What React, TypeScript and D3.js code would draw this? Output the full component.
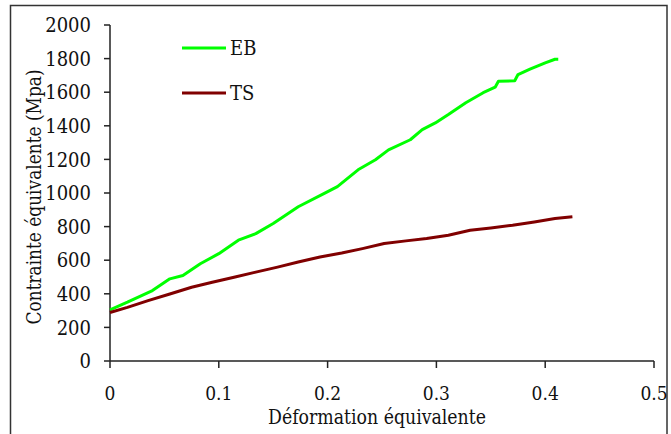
import React from "react";
import * as d3 from "d3";

const ebStrain = [0, 0.016, 0.039, 0.055, 0.067, 0.083, 0.1, 0.118, 0.134, 0.15, 0.173, 0.197, 0.209, 0.228, 0.244, 0.256, 0.276, 0.287, 0.299, 0.311, 0.327, 0.343, 0.354, 0.357, 0.372, 0.375, 0.386, 0.4, 0.409, 0.412];
const ebStress = [305, 350, 419, 489, 509, 579, 639, 719, 758, 818, 918, 998, 1038, 1138, 1198, 1257, 1317, 1377, 1417, 1467, 1537, 1597, 1630, 1665, 1668, 1705, 1737, 1775, 1796, 1796];

const tsStrain = [0, 0.016, 0.035, 0.055, 0.075, 0.094, 0.114, 0.134, 0.154, 0.173, 0.193, 0.213, 0.232, 0.252, 0.272, 0.291, 0.311, 0.331, 0.35, 0.37, 0.39, 0.409, 0.425];
const tsStress = [289, 319, 359, 399, 439, 469, 499, 529, 559, 589, 619, 643, 669, 699, 715, 729, 749, 778, 792, 808, 828, 848, 858];

const xTicks = [0, 0.1, 0.2, 0.3, 0.4, 0.5];
const yTicks = [0, 200, 400, 600, 800, 1000, 1200, 1400, 1600, 1800, 2000];

const seriesNames = ["EB", "TS"];
const seriesColors = ["#00ff00", "#800000"];

export default function App() {
  const W = 671, H = 434;
  const x = d3.scaleLinear().domain([0, 0.5]).range([110, 654]);
  const y = d3.scaleLinear().domain([0, 2000]).range([361, 25]);
  const line = d3.line<[number, number]>().x(d => x(d[0])).y(d => y(d[1])).curve(d3.curveLinear);
  const eb = ebStrain.map((s, i) => [s, ebStress[i]] as [number, number]);
  const ts = tsStrain.map((s, i) => [s, tsStress[i]] as [number, number]);
  const fontStyle = { fontFamily: "'DejaVu Serif Condensed', 'DejaVu Serif', serif" };
  const axisColor = "#222";
  return (
    <svg width={W} height={H} style={{ position: "absolute", left: 0, top: 0, ...fontStyle }}>
      <rect x={0} y={0} width={W} height={H} fill="#fff" />
      <rect x={10.5} y={5.5} width={656.5} height={440} fill="none" stroke="#333" strokeWidth={1.5} />
      <line x1={x(0)} x2={x(0)} y1={y(2000)} y2={y(0)} stroke={axisColor} strokeWidth={1.5} />
      <line x1={x(0)} x2={x(0.5)} y1={y(0)} y2={y(0)} stroke={axisColor} strokeWidth={1.5} />
      {yTicks.map(t => (
        <g key={"y" + t}>
          <line x1={x(0) - 6} x2={x(0)} y1={y(t)} y2={y(t)} stroke={axisColor} strokeWidth={1.5} />
          <text x={91} y={y(t)} dy="0.36em" textAnchor="end" fontSize={20} fill="#111" style={fontStyle}>{t}</text>
        </g>
      ))}
      {xTicks.map(t => (
        <g key={"x" + t}>
          <line x1={x(t)} x2={x(t)} y1={y(0)} y2={y(0) + 7} stroke={axisColor} strokeWidth={1.5} />
          <text x={x(t)} y={400} textAnchor="middle" fontSize={19} fill="#111" style={fontStyle}>{t}</text>
        </g>
      ))}
      <text x={377} y={424} textAnchor="middle" fontSize={20} fill="#111" textLength={218} lengthAdjust="spacingAndGlyphs" style={fontStyle}>Déformation équivalente</text>
      <text transform="translate(41,197) rotate(-90)" textAnchor="middle" fontSize={20} fill="#111" textLength={255} lengthAdjust="spacingAndGlyphs" style={fontStyle}>Contrainte équivalente (Mpa)</text>
      <path d={line(eb) || ""} fill="none" stroke={seriesColors[0]} strokeWidth={3} strokeLinejoin="round" />
      <path d={line(ts) || ""} fill="none" stroke={seriesColors[1]} strokeWidth={3} strokeLinejoin="round" />
      {seriesNames.map((n, i) => (
        <g key={n}>
          <line x1={182} x2={226} y1={48 + i * 45} y2={48 + i * 45} stroke={seriesColors[i]} strokeWidth={3} />
          <text x={230} y={48 + i * 45} dy="0.36em" fontSize={20} fill="#111" style={fontStyle}>{n}</text>
        </g>
      ))}
    </svg>
  );
}
